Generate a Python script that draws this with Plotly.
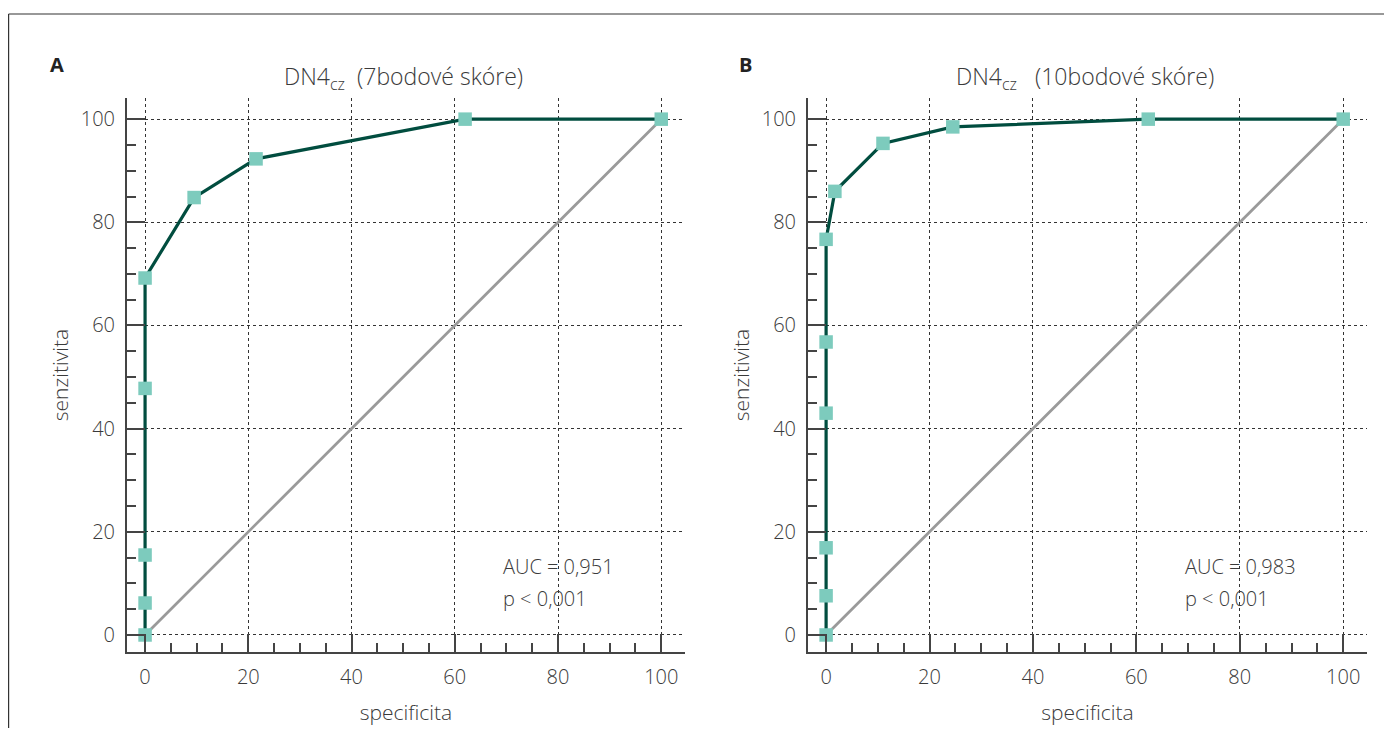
import plotly.graph_objects as go

# Panel A: DN4cz 7-point score
a_spec = [0, 0, 0, 0, 0, 9.5, 21.5, 62, 100]
a_sens = [0, 6.2, 15.5, 47.8, 69.2, 84.8, 92.3, 100, 100]
# Panel B: DN4cz 10-point score
b_spec = [0, 0, 0, 0, 0, 0, 1.7, 11, 24.5, 62.3, 100]
b_sens = [0, 7.6, 16.9, 43.0, 56.8, 76.7, 86.0, 95.3, 98.5, 100, 100]

diag = [0, 100]
titles = ["DN4<sub>cz</sub>  (7bodové skóre)", "DN4<sub>cz</sub>   (10bodové skóre)"]
auc_lines = ["AUC = 0,951", "AUC = 0,983"]
p_lines = ["p < 0,001", "p < 0,001"]
panel_labels = ["A", "B"]
tick_vals = [0, 20, 40, 60, 80, 100]
tick_text = ["0", "20", "40", "60", "80", "100"]

# page is 1392x736; the browser body has an 8px margin
PAGE_OFF = 8
W, H = 1392 - 2 * PAGE_OFF, 736 - 2 * PAGE_OFF
FONT = "Open Sans"
TXT = "#3a3a3a"
CURVE = "#014d3f"
MARK = "#7dcbbd"
DIAG = "#9a9a9a"
AX = "#444444"

fig = go.Figure()

def px_x(p):
    return (p - PAGE_OFF) / W

def px_y(p):
    return 1 - (p - PAGE_OFF) / H

panels = [
    dict(spec=a_spec, sens=a_sens, x0=127, x1=685, xs="", lab=57),
    dict(spec=b_spec, sens=b_sens, x0=808, x1=1367, xs="2", lab=745),
]
ytop, ybot = 98, 652

for i, p in enumerate(panels):
    xa = "x" + p["xs"]
    ya = "y" + p["xs"]
    fig.add_trace(go.Scatter(x=diag, y=diag, mode="lines",
                             line=dict(color=DIAG, width=2.8),
                             xaxis=xa, yaxis=ya, showlegend=False,
                             hoverinfo="skip"))
    fig.add_trace(go.Scatter(x=p["spec"], y=p["sens"], mode="lines+markers",
                             line=dict(color=CURVE, width=3.2),
                             marker=dict(symbol="square", size=13.5, color=MARK),
                             xaxis=xa, yaxis=ya, showlegend=False))
    axcommon = dict(
        showline=True, linecolor=AX, linewidth=2,
        showgrid=True, gridcolor="#333333", griddash="dot", gridwidth=1.3,
        zeroline=False, tickmode="array", tickvals=tick_vals, ticktext=tick_text,
        ticks="inside", ticklen=18, tickwidth=1.5, tickcolor=AX,
        minor=dict(dtick=5, tick0=0, ticks="inside", ticklen=9, tickwidth=1.5,
                   tickcolor=AX, showgrid=False),
        tickfont=dict(family=FONT, size=20, color=TXT, weight=300),
        ticklabelstandoff=6,
    )
    xname = "xaxis" + p["xs"]
    yname = "yaxis" + p["xs"]
    fig.layout[xname] = dict(
        axcommon, domain=[px_x(p["x0"]), px_x(p["x1"])],
        range=[-3.5, 104.6], anchor=ya,
        title=dict(text="specificita", font=dict(family=FONT, size=21, color=TXT, weight=300), standoff=16),
    )
    fig.layout[yname] = dict(
        axcommon, domain=[px_y(ybot), px_y(ytop)],
        range=[-3.3, 104.1], anchor=xa,
        title=dict(text="senzitivita", font=dict(family=FONT, size=21, color=TXT, weight=300), standoff=6),
    )
    fig.add_annotation(x=69, y=13.2, xref=xa, yref=ya, text=auc_lines[i],
                       showarrow=False, xanchor="left", yanchor="middle", align="left",
                       font=dict(family=FONT, size=20, color=TXT, weight=300))
    fig.add_annotation(x=69, y=7.0, xref=xa, yref=ya, text=p_lines[i],
                       showarrow=False, xanchor="left", yanchor="middle", align="left",
                       font=dict(family=FONT, size=20, color=TXT, weight=300))
    fig.add_annotation(x=50, y=px_y(77), xref=xa, yref="paper", text=titles[i],
                       showarrow=False, xanchor="center", yanchor="middle",
                       font=dict(family=FONT, size=23, color=TXT, weight=300))
    fig.add_annotation(x=px_x(p["lab"]), y=px_y(65), xref="paper", yref="paper",
                       text="<b>" + panel_labels[i] + "</b>", showarrow=False,
                       xanchor="center", yanchor="middle",
                       font=dict(family=FONT, size=20, color="#222222"))

# outer frame (left and top edges)
fig.add_shape(type="line", xref="paper", yref="paper", x0=px_x(8.6), x1=px_x(8.6),
              y0=0, y1=px_y(14), line=dict(color="#333333", width=1.2))
fig.add_shape(type="line", xref="paper", yref="paper", x0=px_x(8.6), x1=1,
              y0=px_y(14), y1=px_y(14), line=dict(color="#333333", width=1.2))

fig.update_layout(width=W, height=H, margin=dict(l=0, r=0, t=0, b=0),
                  plot_bgcolor="white", paper_bgcolor="white",
                  font=dict(family=FONT, color=TXT))

fig.write_html("out.html")
